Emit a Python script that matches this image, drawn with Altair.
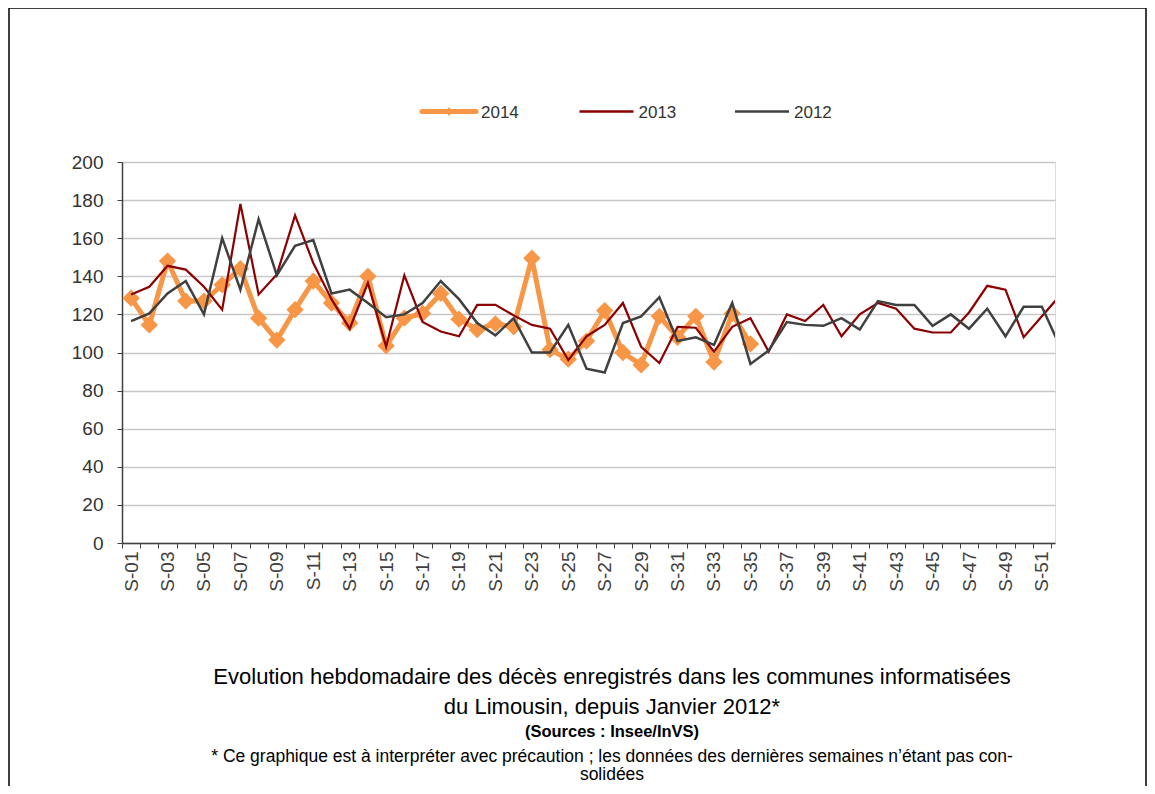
import altair as alt
import pandas as pd

# ---------------- data ----------------
weeks = list(range(1, 53))
week_labels = [f"S-{w:02d}" if w % 2 == 1 else "" for w in weeks]

series = ["2014", "2013", "2012"]
colors = ["#F79646", "#8B0000", "#404040"]

v2014 = [128.5, 114.5, 148, 127, 127, 135.5, 144, 118, 106.5, 122.5,
         137.5, 126, 115.5, 140, 103.5, 118, 120.5, 131, 117.5, 112,
         115, 113.5, 149.5, 101.5, 96.5, 106, 122, 100, 93.5, 119,
         108, 119, 95, 120.5, 104.5]

v2013 = [130.5, 134.5, 145.5, 143.5, 134.5, 122.5, 178, 130.5, 141, 172,
         147, 128, 112.5, 136.5, 103, 140.5, 116, 111, 108.5, 125,
         125, 119.5, 114.5, 112.5, 96, 108.5, 114.5, 126, 103, 94.5,
         113.5, 113, 100.5, 113.5, 118, 100.5, 120, 116.5, 125, 108.5,
         120, 126, 123, 112.5, 110.5, 110.5, 121, 135, 133, 108,
         119, 130]

v2012 = [116.5, 120.5, 131, 137.5, 120, 160, 133, 170, 140.5, 156,
         159, 131, 133, 126, 118.5, 120, 126, 137.5, 128, 115.5,
         109, 118, 100, 100, 114.5, 91.5, 89.5, 115.5, 119, 129,
         106, 108, 104, 126, 94, 101, 116, 114.5, 114, 118,
         112, 127, 125, 125, 114, 120, 112.5, 123, 108.5, 124,
         124, 103]

y_ticks = list(range(0, 201, 20))

title_lines = [
    "Evolution hebdomadaire des décès enregistrés dans les communes informatisées",
    "du Limousin, depuis Janvier  2012*",
]
source_line = "(Sources : Insee/InVS)"
note_lines = [
    "* Ce graphique est à interpréter avec précaution ; les données des dernières semaines n’étant pas con-",
    "solidées",
]

# ---------------- build table ----------------
rows = []
for s, vals in zip(series, [v2014, v2013, v2012]):
    for w, v in zip(weeks, vals):
        rows.append({"semaine": w, "deces": v, "annee": s})
df = pd.DataFrame(rows)

W, H = 933, 381
FONT = "Liberation Sans"

label_js = "[" + ",".join("'" + l + "'" for l in week_labels) + "]"

x_enc = alt.X(
    "semaine:Q",
    scale=alt.Scale(domain=[0.5, 51.72], nice=False, zero=False),
    axis=alt.Axis(
        values=[w - 0.5 for w in weeks],
        labelExpr=label_js + "[round(datum.value - 0.5)]",
        labelAngle=270,
        labelOffset=9.1,
        labelFlush=False,
        labelOverlap=False,
        labelBound=False,
        labelPadding=3,
        labelFont=FONT,
        labelFontSize=19,
        labelColor="#404040",
        tickSize=5,
        tickColor="#404040",
        tickWidth=1,
        domainColor="#404040",
        domainWidth=1.5,
        grid=False,
        title=None,
    ),
)
y_enc = alt.Y(
    "deces:Q",
    scale=alt.Scale(domain=[0, 200], nice=False),
    axis=alt.Axis(
        values=y_ticks,
        labelFont=FONT,
        labelFontSize=19,
        labelColor="#333333",
        labelPadding=14,
        tickSize=5,
        tickColor="#404040",
        domainColor="#404040",
        domainWidth=1.5,
        grid=True,
        gridColor="#C8C8C8",
        gridWidth=1.5,
        title=None,
    ),
)

base = alt.Chart(df)

layers = []
l14 = base.transform_filter(alt.datum.annee == "2014").mark_line(
    color=colors[0], strokeWidth=5, clip=True).encode(x=x_enc, y=y_enc)
p14 = base.transform_filter(alt.datum.annee == "2014").mark_point(
    shape="diamond", filled=True, size=300, color=colors[0], opacity=1, clip=True
).encode(x=x_enc, y=y_enc)
l13 = base.transform_filter(alt.datum.annee == "2013").mark_line(
    color=colors[1], strokeWidth=2.2, clip=True).encode(x=x_enc, y=y_enc)
l12 = base.transform_filter(alt.datum.annee == "2012").mark_line(
    color=colors[2], strokeWidth=2.5, clip=True).encode(x=x_enc, y=y_enc)
layers += [l14, p14, l13, l12]

# ---------------- manual legend (top) ----------------
one = pd.DataFrame({"a": [0]})
leg_y = -50.5
leg_x0 = [300, 457.5, 613]
for s, c, x0 in zip(series, colors, leg_x0):
    lw = 5 if s == "2014" else 2.5
    layers.append(alt.Chart(one).mark_rule(color=c, strokeWidth=lw, strokeCap="round" if s == "2014" else "butt").encode(
        x=alt.value(x0), x2=alt.value(x0 + 54), y=alt.value(leg_y)))
    if s == "2014":
        layers.append(alt.Chart(one).mark_point(shape="diamond", filled=True, size=70, color=c, opacity=1).encode(
            x=alt.value(x0 + 27), y=alt.value(leg_y)))
    layers.append(alt.Chart(pd.DataFrame({"t": [s]})).mark_text(
        align="left", baseline="middle", font=FONT, fontSize=17, color="#333333").encode(
        text="t:N", x=alt.value(x0 + 59), y=alt.value(leg_y + 1)))

# ---------------- titles below ----------------
cx = 490
text_specs = [
    (title_lines[0], 515, 22, "normal"),
    (title_lines[1], 545, 22, "normal"),
    (source_line, 570, 16.5, "bold"),
    (note_lines[0], 595, 17.5, "normal"),
    (note_lines[1], 613, 17.5, "normal"),
]
for t, yy, fs, fw in text_specs:
    layers.append(alt.Chart(pd.DataFrame({"t": [t]})).mark_text(
        align="center", baseline="middle", font=FONT, fontSize=fs, fontWeight=fw, color="#000000").encode(
        text="t:N", x=alt.value(cx), y=alt.value(yy)))

# ---------------- outer frame ----------------
layers.append(alt.Chart(one).mark_rect(fill="transparent", stroke="#000000", strokeWidth=1.5).encode(
    x=alt.value(-113), x2=alt.value(1024), y=alt.value(-154), y2=alt.value(700)))

chart = alt.layer(*layers).properties(
    width=W, height=H,
    padding={"left": 114, "top": 154, "right": 92, "bottom": 243},
    autosize=alt.AutoSizeParams(type="none"),
).configure_view(strokeWidth=0).configure(background="white")

chart.save("out.html", embed_options={"renderer": "svg", "actions": False})
